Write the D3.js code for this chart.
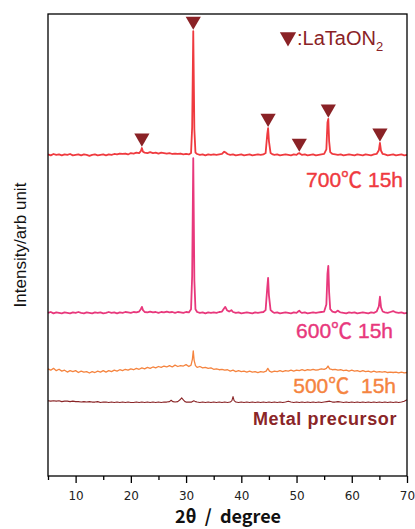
<!DOCTYPE html>
<html>
<head>
<meta charset="utf-8">
<script src="https://cdn.jsdelivr.net/npm/d3@7"></script>
<style>
  html, body { margin: 0; padding: 0; background: #fff; }
  svg { display: block; }
  .lbl { font-family: "Liberation Sans", "Noto Sans CJK JP", sans-serif; white-space: pre; }
  .tick text { font-family: "DejaVu Sans", "Noto Sans CJK JP", sans-serif; }
</style>
</head>
<body>
<div id="chart"></div>
<script>
// XRD patterns, [2theta, counts above own baseline]
var pat700 = [[5,1],[5.5,-1],[6,2],[6.5,0],[7,1],[7.5,-1],[8,1],[8.5,0],[9,2],[9.5,-1],[10,0],[10.5,1],[11,-1],[11.5,1],[12,0],[12.5,-2],[13,0],[13.5,1],[14,-1],[14.5,0],[15,1],[15.5,-1],[16,1],[16.5,0],[17,2],[17.5,1],[18,3],[18.5,2],[19,3],[19.5,1],[20,4],[20.5,3],[21,5],[21.5,4],[21.8,8],[22,15],[22.2,7],[22.5,5],[23,4],[23.5,6],[24,4],[24.5,5],[25,3],[25.5,5],[26,4],[26.5,3],[27,4],[27.5,2],[28,3],[28.5,2],[29,3],[29.5,1],[30,2],[30.5,1],[30.9,4],[31.1,60],[31.3,268],[31.5,55],[31.7,5],[32,2],[32.5,0],[33,1],[33.5,-1],[34,1],[34.5,0],[35,1],[35.5,0],[36,1],[36.5,2],[36.9,7],[37.2,5],[37.5,2],[38,0],[38.5,1],[39,-1],[39.5,0],[40,1],[40.5,-1],[41,0],[41.5,1],[42,-1],[42.5,0],[43,1],[43.5,0],[44,1],[44.4,4],[44.7,45],[44.85,58],[45,30],[45.3,4],[45.7,1],[46,0],[46.5,1],[47,-1],[47.5,0],[48,1],[48.5,0],[49,-1],[49.5,1],[50,0],[50.3,3],[50.5,4],[50.7,2],[51,0],[51.5,1],[52,-1],[52.5,0],[53,1],[53.5,-1],[54,0],[54.5,1],[55,2],[55.4,12],[55.6,70],[55.75,78],[55.9,30],[56.1,6],[56.5,2],[57,1],[57.5,0],[58,1],[58.5,-1],[59,0],[59.5,1],[60,0],[60.5,-1],[61,1],[61.5,0],[62,-1],[62.5,1],[63,0],[63.5,-1],[64,1],[64.5,2],[64.9,10],[65.1,26],[65.3,9],[65.6,2],[66,1],[66.5,-1],[67,0],[67.5,1],[68,-1],[68.5,0],[69,1],[69.5,-1],[70,0]];

var pat600 = [[5,0],[5.5,2],[6,-1],[6.5,1],[7,0],[7.5,-1],[8,1],[8.5,0],[9,-1],[9.5,1],[10,0],[10.5,2],[11,0],[11.5,-1],[12,1],[12.5,0],[13,-1],[13.5,1],[14,0],[14.5,1],[15,-1],[15.5,0],[16,2],[16.5,0],[17,1],[17.5,-1],[18,1],[18.5,0],[19,2],[19.5,1],[20,0],[20.5,2],[21,1],[21.5,3],[21.8,8],[22,13],[22.2,6],[22.5,2],[23,1],[23.5,3],[24,1],[24.5,2],[25,0],[25.5,2],[26,1],[26.5,3],[27,1],[27.5,2],[28,0],[28.5,2],[29,1],[29.5,0],[30,2],[30.5,1],[30.9,8],[31.1,80],[31.3,335],[31.5,70],[31.7,8],[32,2],[32.5,0],[33,1],[33.5,-1],[34,1],[34.5,0],[35,1],[35.5,0],[36,2],[36.5,3],[36.9,10],[37.1,13],[37.4,6],[37.8,3],[38.2,6],[38.5,2],[39,0],[39.5,1],[40,-1],[40.5,0],[41,1],[41.5,0],[42,-1],[42.5,1],[43,0],[43.5,1],[44,2],[44.4,6],[44.7,55],[44.85,76],[45,38],[45.3,6],[45.7,2],[46,0],[46.5,1],[47,-1],[47.5,0],[48,1],[48.5,0],[49,-1],[49.5,1],[50,0],[50.3,3],[50.5,5],[50.7,2],[51,0],[51.5,1],[52,-1],[52.5,0],[53,1],[53.5,0],[54,1],[54.5,2],[55,3],[55.4,18],[55.6,85],[55.75,102],[55.9,45],[56.1,8],[56.5,3],[57,1],[57.5,5],[57.8,2],[58,1],[58.5,0],[59,-1],[59.5,1],[60,0],[60.5,1],[61,-1],[61.5,0],[62,1],[62.5,0],[63,-1],[63.5,1],[64,0],[64.5,3],[64.9,14],[65.1,35],[65.3,12],[65.6,3],[66,1],[66.5,0],[67,2],[67.5,4],[68,1],[68.5,0],[69,1],[69.5,-1],[70,0]];

var pat500 = [[5,9],[5.5,6],[6,10],[6.5,5],[7,8],[7.5,4],[8,6],[8.5,2],[9,5],[9.5,3],[10,5],[10.5,1],[11,4],[11.5,2],[12,3],[12.5,0],[13,3],[13.5,1],[14,4],[14.5,2],[15,5],[15.5,2],[16,5],[16.5,3],[17,6],[17.5,4],[18,7],[18.5,5],[19,8],[19.5,6],[20,9],[20.5,7],[21,10],[21.5,8],[22,11],[22.5,9],[23,12],[23.5,10],[24,13],[24.5,11],[25,14],[25.5,12],[26,15],[26.5,13],[27,16],[27.5,13],[28,17],[28.5,14],[29,16],[29.5,15],[30,18],[30.5,14],[30.9,17],[31.15,30],[31.3,48],[31.45,28],[31.7,16],[32,12],[32.5,14],[33,11],[33.5,12],[34,10],[34.5,11],[35,8],[35.5,9],[36,7],[36.5,8],[37,6],[37.5,7],[38,4],[38.5,6],[39,3],[39.5,5],[40,3],[40.5,4],[41,2],[41.5,4],[42,2],[42.5,3],[43,1],[43.5,3],[44,2],[44.5,4],[44.8,10],[45.1,4],[45.5,2],[46,4],[46.5,3],[47,5],[47.5,3],[48,5],[48.5,4],[49,6],[49.5,4],[50,6],[50.5,5],[51,7],[51.5,5],[52,7],[52.5,6],[53,8],[53.5,6],[54,7],[54.5,9],[55,8],[55.4,10],[55.7,15],[56,9],[56.5,7],[57,8],[57.5,6],[58,7],[58.5,5],[59,6],[59.5,4],[60,6],[60.5,4],[61,5],[61.5,3],[62,5],[62.5,3],[63,4],[63.5,2],[64,4],[64.5,2],[65,3],[65.5,2],[66,3],[66.5,1],[67,2],[67.5,1],[68,2],[68.5,0],[69,2],[69.5,0],[70,1]];

var patMetal = [[5,4],[5.5,3],[6,4],[6.5,3],[7,4],[7.5,2],[8,3],[8.5,3],[9,2],[9.5,3],[10,2],[10.5,2],[11,1],[11.5,2],[12,1],[12.5,2],[13,1],[13.5,1],[14,2],[14.5,0],[15,1],[15.5,1],[16,0],[16.5,1],[17,0],[17.5,1],[18,0],[18.5,1],[19,0],[19.5,1],[20,0],[20.5,0],[21,1],[21.5,0],[22,1],[22.5,0],[23,1],[23.5,0],[24,1],[24.5,0],[25,1],[25.5,0],[26,1],[26.5,1],[27,2],[27.3,5],[27.6,2],[28,1],[28.5,2],[28.9,6],[29.2,10],[29.5,6],[29.8,2],[30,1],[30.5,1],[31,1],[31.4,4],[31.7,2],[32,1],[32.5,0],[33,1],[33.5,0],[34,1],[34.5,0],[35,1],[35.5,0],[36,1],[36.5,0],[37,1],[37.5,0],[38,1],[38.3,4],[38.5,13],[38.7,4],[39,1],[39.5,0],[40,1],[40.5,0],[41,1],[41.5,0],[42,1],[42.5,0],[43,1],[43.5,0],[44,1],[44.5,0],[45,1],[45.5,0],[46,1],[46.5,0],[47,1],[47.5,0],[48,1],[48.5,3],[49,1],[49.5,0],[50,1],[50.5,0],[51,1],[51.5,0],[52,1],[52.5,0],[53,1],[53.5,0],[54,1],[54.5,0],[55,1],[55.5,2],[56,3],[56.5,1],[57,1],[57.5,2],[58,1],[58.5,0],[59,1],[59.5,0],[60,1],[60.5,0],[61,1],[61.5,0],[62,1],[62.5,0],[63,1],[63.5,0],[64,1],[64.5,0],[65,1],[65.5,0],[66,1],[66.5,0],[67,1],[67.5,0],[68,1],[68.5,0],[69,1],[69.5,3],[70,6]];

// stacking offset of each pattern (counts)
var seriesNames = ["700℃ 15h", "600℃ 15h", "500℃  15h", "Metal precursor"];
var seriesOffsets = [695, 353, 223, 159];

// LaTaON2 reflections marked on the 700 pattern
var markerPeaks = [22, 31.3, 44.85, 50.5, 55.75, 65.1];

var majorTicks = [10, 20, 30, 40, 50, 60, 70];
var minorTicks = [5, 15, 25, 35, 45, 55, 65];

var W = 415, H = 529;
var margin = { top: 14, right: 8, bottom: 53, left: 48 };

var colors = ["#ef3a3f", "#e8387c", "#f5843f", "#8a2527"];
var widths = [1.8, 1.8, 1.3, 1.1];
var markColor = "#8a2226";

var svg = d3.select("#chart").append("svg")
  .attr("width", W).attr("height", H);

var x = d3.scaleLinear().domain([5, 70]).range([margin.left, W - margin.right]);
var y = d3.scaleLinear().domain([0, 1000]).range([H - margin.bottom, margin.top]);

var patterns = [pat700, pat600, pat500, patMetal];

var line = d3.line()
  .x(function(d) { return x(d[0]); })
  .y(function(d) { return y(d[1]); });

// traces, bottom one first
patterns.slice().reverse().forEach(function(p, k) {
  var i = patterns.length - 1 - k;
  var shifted = p.map(function(d) { return [d[0], d[1] + seriesOffsets[i]]; });
  svg.append("path")
    .datum(shifted)
    .attr("fill", "none")
    .attr("stroke", colors[i])
    .attr("stroke-width", widths[i])
    .attr("stroke-linejoin", "round")
    .attr("d", line);
});

// frame
svg.append("rect")
  .attr("x", x(5)).attr("y", y(1000))
  .attr("width", x(70) - x(5)).attr("height", y(0) - y(1000))
  .attr("fill", "none").attr("stroke", "#000").attr("stroke-width", 1.3);

// x axis
var axisG = svg.append("g").attr("transform", "translate(0," + y(0) + ")");
axisG.call(d3.axisBottom(x).tickValues(majorTicks).tickSize(7).tickPadding(8).tickFormat(d3.format("d")));
axisG.append("g").call(d3.axisBottom(x).tickValues(minorTicks).tickSize(4).tickFormat(""));
axisG.selectAll(".domain").remove();
axisG.selectAll(".tick line").attr("stroke", "#000").attr("stroke-width", 1.3);
axisG.selectAll(".tick text").attr("font-size", 12).attr("fill", "#222");

// triangles over LaTaON2 peaks
var tri = d3.symbol().type(d3.symbolTriangle).size(100);
markerPeaks.forEach(function(t) {
  var top = d3.max(pat700.filter(function(d) { return Math.abs(d[0] - t) < 0.3; }), function(d) { return d[1]; });
  svg.append("path")
    .attr("d", tri)
    .attr("fill", markColor)
    .attr("transform", "translate(" + x(t) + "," + (y(top + seriesOffsets[0]) - 10) + ") rotate(180)");
});

// legend
svg.append("path").attr("d", d3.symbol().type(d3.symbolTriangle).size(115)).attr("fill", markColor)
  .attr("transform", "translate(288,37) rotate(180)");
var leg = svg.append("text").attr("class", "lbl")
  .attr("x", 297).attr("y", 45).attr("font-size", 20).attr("fill", markColor);
leg.append("tspan").text(":LaTaON");
leg.append("tspan").attr("font-size", 13).attr("dy", 6).text("2");

// series labels
var labelPos = [[403, 187, 21, "normal", 0], [393, 338, 21, "normal", 0], [396, 393, 21, "normal", 0], [397, 425, 18, "bold", 0.6]];
seriesNames.forEach(function(n, i) {
  svg.append("text").attr("class", "lbl")
    .attr("x", labelPos[i][0]).attr("y", labelPos[i][1])
    .attr("text-anchor", "end")
    .attr("font-size", labelPos[i][2])
    .attr("font-weight", labelPos[i][3])
    .attr("letter-spacing", labelPos[i][4])
    .attr("fill", colors[i])
    .attr("stroke", labelPos[i][3] === "normal" ? colors[i] : "none")
    .attr("stroke-width", 0.4)
    .text(n);
});

// axis titles
svg.append("text").attr("class", "lbl")
  .attr("transform", "translate(26,245) rotate(-90)")
  .attr("text-anchor", "middle").attr("font-size", 17).attr("fill", "#111")
  .text("Intensity/arb unit");

svg.append("text")
  .attr("x", 228).attr("y", 523)
  .attr("text-anchor", "middle")
  .attr("font-family", "'Noto Sans CJK JP', sans-serif")
  .attr("font-size", 18).attr("font-weight", "bold").attr("fill", "#111")
  .style("white-space", "pre")
  .text("2θ  /  degree");
</script>
</body>
</html>
